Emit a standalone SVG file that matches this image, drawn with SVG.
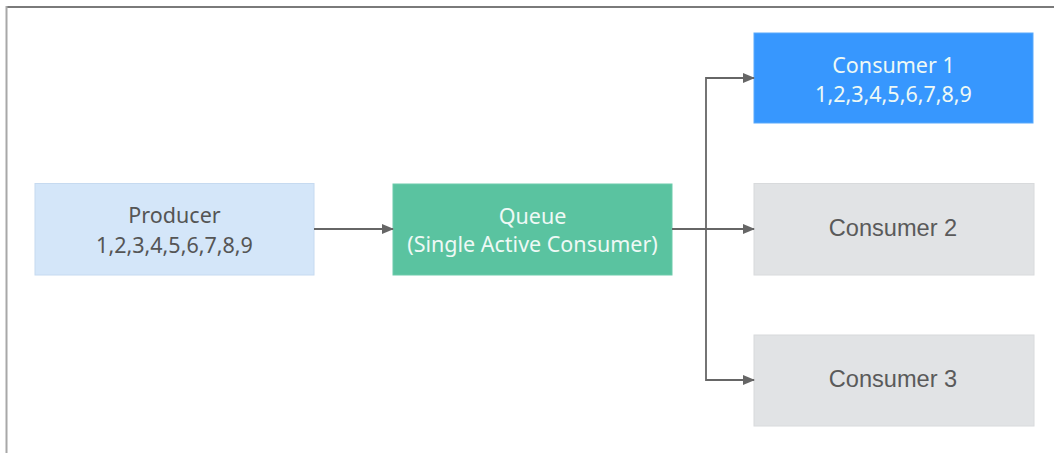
<svg xmlns="http://www.w3.org/2000/svg" width="1054" height="453" viewBox="0 0 1054 453">
<defs>
<marker id="arr" markerWidth="12" markerHeight="10" refX="11" refY="5" orient="auto" markerUnits="userSpaceOnUse">
<path d="M0,0 L12,5 L0,10 Z" fill="#666"/>
</marker>
<style>
.box{stroke-width:1}
.t{font-family:"Noto Sans","Open Sans",sans-serif;font-size:21.5px;text-anchor:middle}
.t2{font-family:"Liberation Sans",Arial,sans-serif;font-size:23.6px;text-anchor:middle;fill:#5a5a5a}
.dark{fill:#555}
.light{fill:#eef9f5}
.conn{fill:none;stroke:#666;stroke-width:1.8}
</style>
</defs>
<rect width="1054" height="453" fill="#fff"/>
<line x1="6" y1="7" x2="1054" y2="7" stroke="#7a7a7a" stroke-width="2"/>
<line x1="6.5" y1="6" x2="6.5" y2="453" stroke="#a8a8a8" stroke-width="2"/>
<g id="producer">
<rect class="box" x="35" y="183.5" width="279" height="91.5" fill="#d4e6f9" stroke="#c6daf0"/>
<text class="t dark" x="174.5" y="223">Producer</text>
<text class="t dark" x="174.5" y="253">1,2,3,4,5,6,7,8,9</text>
</g>
<g id="queue">
<rect class="box" x="393" y="184" width="279" height="91" fill="#5ac3a0" stroke="#6ccbab"/>
<text class="t light" x="532.5" y="224">Queue</text>
<text class="t light" x="532.5" y="252">(Single Active Consumer)</text>
</g>
<g id="consumer1">
<rect class="box" x="754" y="33" width="279" height="90" fill="#3797fe" stroke="#5aa9fb"/>
<text class="t light" x="893.5" y="73">Consumer 1</text>
<text class="t light" x="893.5" y="102">1,2,3,4,5,6,7,8,9</text>
</g>
<g id="consumer2">
<rect class="box" x="754" y="183.5" width="280" height="91.5" fill="#e1e3e5" stroke="#d8dadc"/>
<text class="t2" x="893" y="236">Consumer 2</text>
</g>
<g id="consumer3">
<rect class="box" x="754" y="335" width="280" height="91" fill="#e1e3e5" stroke="#d8dadc"/>
<text class="t2" x="893" y="387">Consumer 3</text>
</g>
<g id="connectors">
<path class="conn" d="M314,229 L393,229" marker-end="url(#arr)"/>
<path class="conn" d="M672,229 L754,229" marker-end="url(#arr)"/>
<path class="conn" d="M706,229 L706,78 L754,78" marker-end="url(#arr)"/>
<path class="conn" d="M706,229 L706,380 L754,380" marker-end="url(#arr)"/>
</g>
</svg>
